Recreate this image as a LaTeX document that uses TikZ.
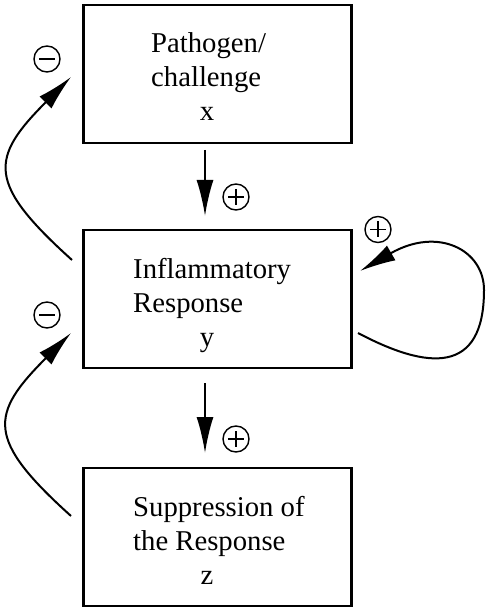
\documentclass[tikz,border=0pt]{standalone}
\usepackage{fontspec}
\setmainfont{Liberation Serif}
\usetikzlibrary{arrows.meta,calc}
\begin{document}
\begin{tikzpicture}[x=1pt,y=-1pt,
  box/.style={draw,line width=2.4pt,minimum width=268pt,minimum height=138pt,inner sep=0pt,outer sep=0pt},
  txt/.style={anchor=base west,inner sep=0pt,font=\fontsize{28.7}{34}\selectfont},
  var/.style={anchor=base,inner sep=0pt,font=\fontsize{28.7}{34}\selectfont},
  arr/.style={line width=2pt,-{Latex[length=36pt,width=17pt]}},
  sign/.style={circle,draw,line width=1.4pt,minimum size=26pt,inner sep=0pt},
  plussign/.style={sign,path picture={\draw[line width=1.4pt]
     ($(path picture bounding box.center)+(-8,0)$) -- +(16,0)
     ($(path picture bounding box.center)+(0,-8)$) -- +(0,16);}},
  minussign/.style={sign,path picture={\draw[line width=1.6pt]
     ($(path picture bounding box.center)+(-8,0)$) -- +(16,0);}}
]
\useasboundingbox (0,0) rectangle (485,609);
\fill[white] (0,0) rectangle (485,609);

% boxes
\node[box] (bx) at (217.5,74) {};
\node[box] (by) at (217.5,299) {};
\node[box] (bz) at (217.5,537) {};

% texts
\node[txt] (t1a) at (151,53) {Pathogen/};
\node[txt] (t1b) at (151,86.5) {challenge};
\node[var] (t1c) at (207,121) {x};
\node[txt] (t2a) at (133,278) {Inflammatory};
\node[txt] (t2b) at (133,312) {Response};
\node[var] (t2c) at (207,346) {y};
\node[txt] (t3a) at (133,516) {Suppression of};
\node[txt] (t3b) at (133,550) {the Response};
\node[var] (t3c) at (207,584) {z};

% signs
\node[plussign] (p1) at (236,197) {};
\node[plussign] (p2) at (236,439) {};
\node[plussign] (p3) at (378,229.5) {};
\node[minussign] (m1) at (47,59) {};
\node[minussign] (m2) at (47,315) {};

% straight arrows
\draw[arr] ($(bx.south)+(-12.5,7)$) -- ($(by.north)+(-12.5,-14)$);
\draw[arr] ($(by.south)+(-12.5,15)$) -- ($(bz.north)+(-12.5,-15)$);

% left feedback curves
\draw[arr] ($(by.west)+(-11.5,-39)$) .. controls +(-85.4,-77) and +(-81.3,81.3) .. ($(bx.west)+(-12.5,3)$);
\draw[arr] ($(bz.west)+(-12.5,-21)$) .. controls +(-85.4,-77) and +(-81.3,81.3) .. ($(by.west)+(-12.5,34)$);

% self loop
\draw[arr] ($(by.east)+(6.5,34)$) .. controls +(70,37) and +(0,85) .. ($(by.east)+(132.5,-9)$)
  .. controls +(0,-40) and +(78,-45) .. ($(by.east)+(8.5,-28)$);
\end{tikzpicture}
\end{document}
